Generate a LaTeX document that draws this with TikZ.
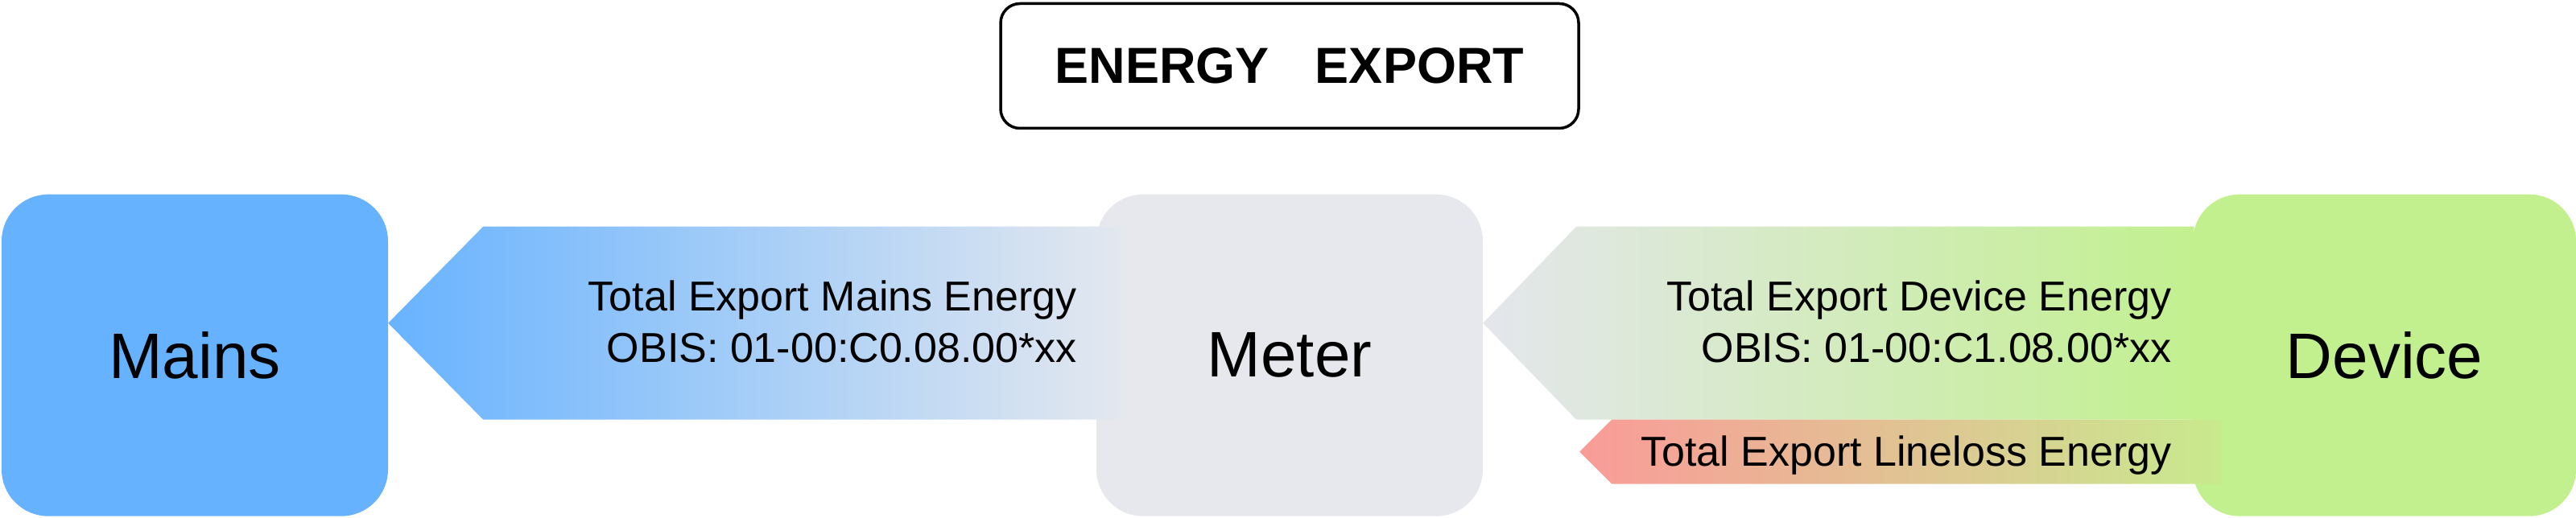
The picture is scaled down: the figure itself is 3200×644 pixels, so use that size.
\documentclass[tikz,border=0pt]{standalone}
\usepackage{fontspec}
\setmainfont{Liberation Sans}
\usetikzlibrary{calc}
\definecolor{mainsblue}{HTML}{66B2FF}
\definecolor{metergray}{HTML}{E6E8EE}
\definecolor{devgreen}{HTML}{C2F08F}
\definecolor{blueL}{HTML}{68B3FF}
\definecolor{blueR}{HTML}{E4E8EF}
\definecolor{greenL}{HTML}{E4E6EC}
\definecolor{greenR}{HTML}{C2F08F}
\definecolor{redL}{HTML}{FA9B98}
\definecolor{redR}{HTML}{C8EA8E}
\begin{document}
\begin{tikzpicture}[x=1pt,y=1pt,
  box/.style={rounded corners=58pt, minimum width=480pt, minimum height=400pt, inner sep=0pt, font=\fontsize{80}{96}\selectfont},
  flowtext/.style={anchor=base east, inner sep=0pt, font=\fontsize{52}{62}\selectfont},
  titlebox/.style={draw=black, line width=3.5pt, rounded corners=24pt, minimum width=718pt, minimum height=155pt, inner sep=0pt, font=\bfseries\fontsize{63}{76}\selectfont},
]
\useasboundingbox (0,0) rectangle (3200,644);
\node[titlebox] (title) at (1602,562) {ENERGY\hspace{57pt}EXPORT};
\node[box, fill=mainsblue] (mains) at (242,202.3) {Mains};
\node[box, fill=metergray] (meter) at (1602,202.3) {Meter};
\node[box, fill=devgreen, minimum width=476pt] (device) at (2962,202.3) {Device};
% flows
\shade[left color=blueL, right color=blueR] ($(mains.east)+(0,40)$) -- ++(118,120) -- ++(796,0) -- ++(0,-240) -- ++(-796,0) -- cycle;
\shade[left color=greenL, right color=greenR] ($(meter.east)+(0,40)$) -- ++(116,120) -- ++(767,0) -- ++(0,-240) -- ++(-767,0) -- cycle;
\shade[left color=redL, right color=redR] ($(meter.east)+(120,-120)$) -- ++(40,40) -- ++(758,0) -- ++(0,-80) -- ++(-758,0) -- cycle;
\node[flowtext] (mainsA) at (1338,257.3) {Total Export Mains Energy};
\node[flowtext] (mainsB) at (1338,193.3) {OBIS: 01-00:C0.08.00*xx};
\node[flowtext] (devA) at (2697.6,257.3) {Total Export Device Energy};
\node[flowtext] (devB) at (2697.6,193.3) {OBIS: 01-00:C1.08.00*xx};
\node[flowtext] (loss) at (2697.6,64) {Total Export Lineloss Energy};
\end{tikzpicture}
\end{document}
